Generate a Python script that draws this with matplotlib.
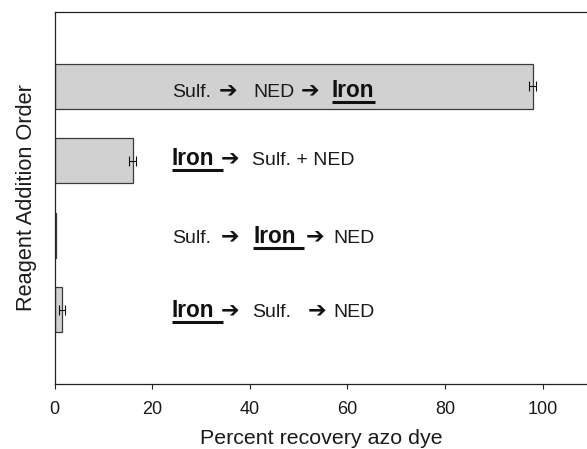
import matplotlib
matplotlib.use("Agg")
import matplotlib.pyplot as plt

plt.rcParams["font.family"] = ["Liberation Sans", "DejaVu Sans"]

# bottom to top, as drawn
positions = [1, 2, 3, 4]
recovery = [1.6, 0.4, 16.0, 98.0]
recovery_err = [0.6, 0.0, 0.65, 0.7]

# each order as (text, bold/underlined) pieces, bottom row first
orders = [
    [("Iron", True), ("\u2794", False), ("Sulf.", False), ("\u2794", False), ("NED", False)],
    [("Sulf.", False), ("\u2794", False), ("Iron", True), ("\u2794", False), ("NED", False)],
    [("Iron", True), ("\u2794", False), ("Sulf. + NED", False)],
    [("Sulf.", False), ("\u2794", False), ("NED", False), ("\u2794", False), ("Iron", True)],
]

# layout only: start x of each piece (data units), underline end, baseline offset
piece_x = [
    [24.0, 34.1, 40.4, 51.8, 57.1],
    [24.0, 34.1, 40.7, 51.5, 57.1],
    [24.0, 34.1, 40.4],
    [24.0, 33.7, 40.7, 50.5, 56.8],
]
underline_end = [34.5, 51.2, 34.5, 65.7]
baseline_off = [0.098, 0.105, 0.058, 0.146]

fig = plt.figure(figsize=(5.87, 4.49), dpi=100)
ax = fig.add_axes([54.5 / 587, 64.7 / 449, 532.5 / 587, 372.6 / 449])

ax.barh(positions, recovery, height=0.6, color="#d0d1d0",
        edgecolor="#3a3a3a", linewidth=0.9, zorder=2)
err_pos = [p for p, e in zip(positions, recovery_err) if e > 0]
err_val = [r for r, e in zip(recovery, recovery_err) if e > 0]
err_e = [e for e in recovery_err if e > 0]
ax.errorbar(err_val, err_pos, xerr=err_e, fmt="none", ecolor="#111111",
            elinewidth=0.8, capsize=3.8, capthick=0.8, zorder=3)

for i, row in enumerate(orders):
    yb = positions[i] - baseline_off[i]
    for (txt, bold), x in zip(row, piece_x[i]):
        if txt == "\u2794":
            ax.text(x, yb, txt, fontsize=16, family=["DejaVu Sans"],
                    color="#111111", va="baseline", ha="left", zorder=4)
        elif bold:
            ax.text(x, yb, txt, fontsize=16.3, fontweight="bold",
                    color="#111111", va="baseline", ha="left", zorder=4)
            ax.plot([x, underline_end[i]], [yb - 0.067, yb - 0.067],
                    color="#111111", lw=2.2, solid_capstyle="butt", zorder=4)
        else:
            ax.text(x, yb, txt, fontsize=14, color="#1a1a1a",
                    va="baseline", ha="left", zorder=4)

ax.set_xlim(0, 109.1)
ax.set_ylim(0, 5)
ax.set_xticks([0, 20, 40, 60, 80, 100])
ax.set_yticks([])
ax.tick_params(axis="x", direction="out", length=3.3, width=0.8,
               pad=9, labelsize=13, colors="#222222", labelcolor="#1a1a1a")
for side in ["left", "top", "bottom"]:
    ax.spines[side].set_color("#222222")
    ax.spines[side].set_linewidth(0.9)
ax.spines["right"].set_visible(False)

ax.set_xlabel("Percent recovery azo dye", fontsize=15.4, color="#1a1a1a")
ax.xaxis.set_label_coords(0.5017, -0.121)
ax.set_ylabel("Reagent Addition Order", fontsize=15.7, color="#1a1a1a")
ax.yaxis.set_label_coords(-0.032, 0.5)

fig.savefig("out.png", dpi=100)
